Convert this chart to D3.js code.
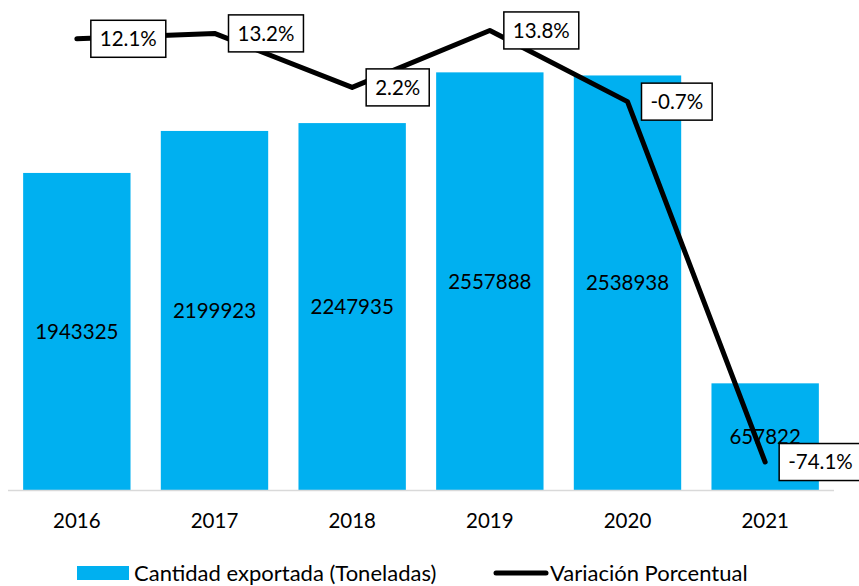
<!DOCTYPE html>
<html>
<head>
<meta charset="utf-8">
<script src="https://cdn.jsdelivr.net/npm/d3@7"></script>
<style>
  body { margin: 0; background: #fff; }
  text { font-family: Lato, "Liberation Sans", sans-serif; fill: #000; }
</style>
</head>
<body>
<div id="chart"></div>
<script>
// data
var years = ["2016", "2017", "2018", "2019", "2020", "2021"];
var toneladas = [1943325, 2199923, 2247935, 2557888, 2538938, 657822];
var variacion = [12.1, 13.2, 2.2, 13.8, -0.7, -74.1];

var width = 859, height = 586;
var plotTop = 0, plotBottom = 491;

var svg = d3.select("#chart")
    .append("svg")
    .attr("width", width)
    .attr("height", height);

var x = d3.scaleBand()
    .domain(years)
    .range([8, 834])
    .paddingInner(0.22)
    .paddingOuter(0.11);

// left (bars) and right (line) axes, both hidden like in the original
var y = d3.scaleLinear().domain([0, 3000000]).range([plotBottom, plotTop]);
var y2 = d3.scaleLinear().domain([-80, 20]).range([plotBottom, plotTop]);

var rows = years.map(function (d, i) {
    return { year: d, ton: toneladas[i], pct: variacion[i] };
});

// bars
svg.selectAll("rect.bar")
    .data(rows)
    .enter()
    .append("rect")
    .attr("class", "bar")
    .attr("x", function (d) { return x(d.year); })
    .attr("y", function (d) { return y(d.ton); })
    .attr("width", x.bandwidth())
    .attr("height", function (d) { return y(0) - y(d.ton); })
    .attr("fill", "#00b0f0");

// baseline
svg.append("line")
    .attr("x1", 8).attr("x2", 834)
    .attr("y1", y(0) - 0.5).attr("y2", y(0) - 0.5)
    .attr("stroke", "#d9d9d9")
    .attr("stroke-width", 1.5);

// x axis labels
var xAxis = svg.append("g")
    .attr("transform", "translate(0," + y(0) + ")")
    .call(d3.axisBottom(x).tickSize(0).tickPadding(22));
xAxis.select(".domain").remove();
xAxis.selectAll("text")
    .style("font-family", "Lato, 'Liberation Sans', sans-serif")
    .style("font-size", "20.5px")
    .attr("fill", "#000");

// values inside bars
svg.selectAll("text.val")
    .data(rows)
    .enter()
    .append("text")
    .attr("class", "val")
    .attr("x", function (d) { return x(d.year) + x.bandwidth() / 2; })
    .attr("y", function (d) { return (y(d.ton) + y(0)) / 2; })
    .attr("dy", "0.35em")
    .attr("text-anchor", "middle")
    .style("font-size", "20.5px")
    .text(function (d) { return d.ton; });

// line
var line = d3.line()
    .x(function (d) { return x(d.year) + x.bandwidth() / 2; })
    .y(function (d) { return y2(d.pct); });

svg.append("path")
    .datum(rows)
    .attr("d", line)
    .attr("fill", "none")
    .attr("stroke", "#000")
    .attr("stroke-width", 5)
    .attr("stroke-linecap", "round")
    .attr("stroke-linejoin", "round");

// percent labels in boxes
var lab = svg.selectAll("g.lab")
    .data(rows)
    .enter()
    .append("g")
    .attr("class", "lab")
    .attr("transform", function (d) {
        return "translate(" + (x(d.year) + x.bandwidth() / 2 + 14) + "," + y2(d.pct) + ")";
    });

lab.append("rect");
lab.append("text")
    .attr("x", 9)
    .attr("dy", "0.36em")
    .style("font-size", "20.5px")
    .text(function (d) { return d.pct.toFixed(1) + "%"; });

lab.each(function () {
    var g = d3.select(this);
    var w = g.select("text").node().getComputedTextLength();
    g.select("rect")
        .attr("x", 0)
        .attr("y", -18.5)
        .attr("width", w + 18)
        .attr("height", 37)
        .attr("fill", "#fff")
        .attr("stroke", "#000")
        .attr("stroke-width", 1.5);
});

// legend
var legY = 573;
var leg = svg.append("g");
leg.append("rect")
    .attr("x", 77).attr("y", legY - 7)
    .attr("width", 52).attr("height", 14)
    .attr("fill", "#00b0f0");
leg.append("text")
    .attr("x", 134).attr("y", legY)
    .attr("dy", "0.36em")
    .style("font-size", "22px")
    .text("Cantidad exportada (Toneladas)");
leg.append("line")
    .attr("x1", 496).attr("x2", 546)
    .attr("y1", legY).attr("y2", legY)
    .attr("stroke", "#000")
    .attr("stroke-width", 5)
    .attr("stroke-linecap", "round");
leg.append("text")
    .attr("x", 550).attr("y", legY)
    .attr("dy", "0.36em")
    .style("font-size", "22px")
    .text("Variación Porcentual");
</script>
</body>
</html>
